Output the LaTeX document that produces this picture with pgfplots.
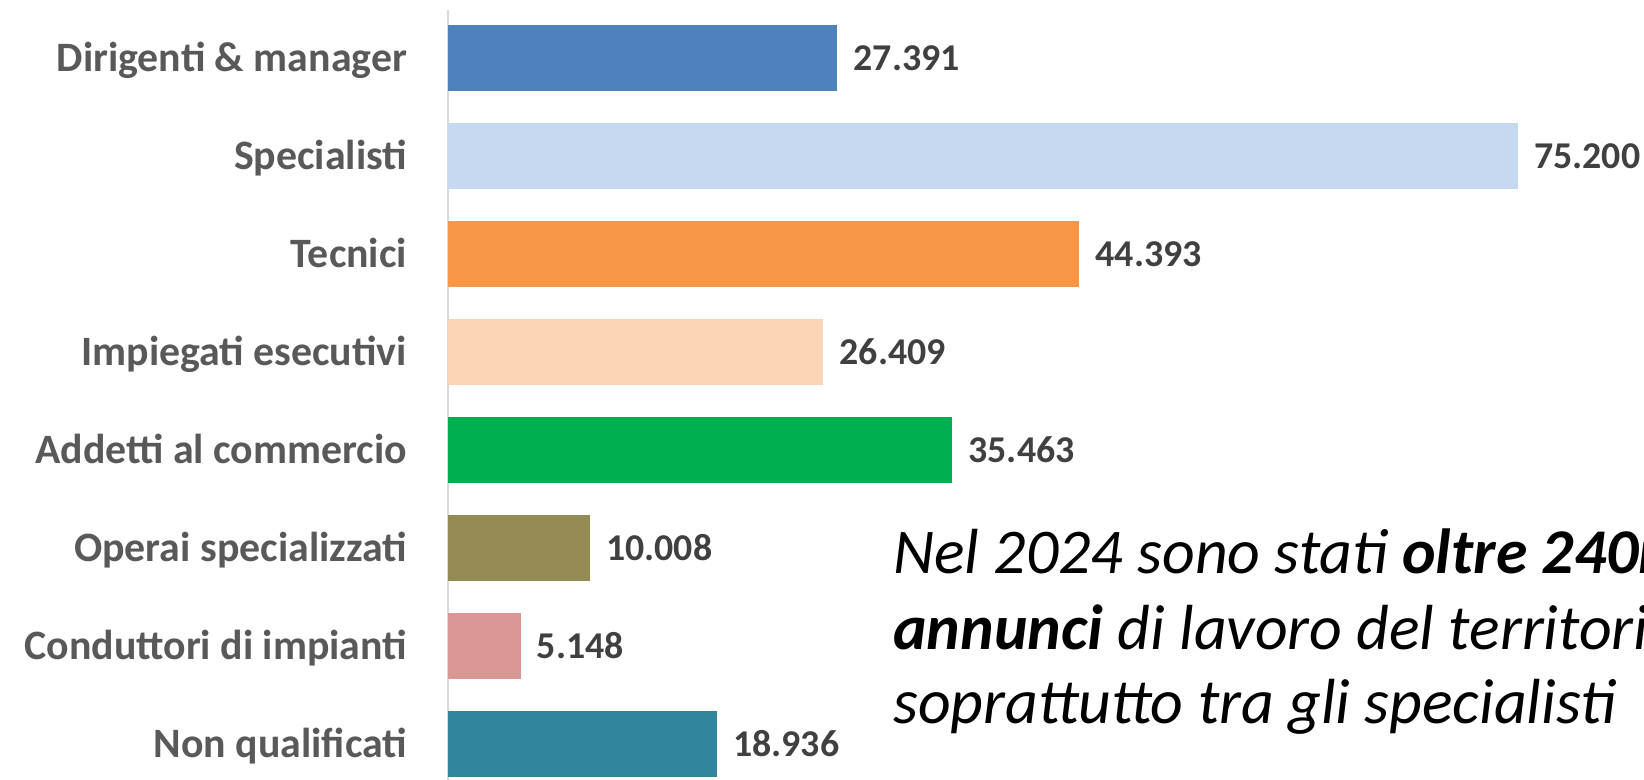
\documentclass[border=0pt]{standalone}
\usepackage{pgfplots}
\pgfplotsset{compat=1.18}
\usepackage{fontspec}
\setmainfont{Carlito}
\definecolor{c1}{HTML}{4F81BD}
\definecolor{c2}{HTML}{C6D9F1}
\definecolor{c3}{HTML}{F79646}
\definecolor{c4}{HTML}{FBD5B5}
\definecolor{c5}{HTML}{00B050}
\definecolor{c6}{HTML}{948A54}
\definecolor{c7}{HTML}{D99694}
\definecolor{c8}{HTML}{31859C}
\definecolor{labgray}{HTML}{595959}
\definecolor{valgray}{HTML}{404040}
\begin{document}
\begin{tikzpicture}[x=1bp,y=1bp]
\clip (0,0) rectangle (1644,780);
\useasboundingbox (0,0) rectangle (1644,780);
\begin{axis}[
  at={(447.5bp,0bp)}, anchor=south west,
  scale only axis, width=1196.5bp, height=770bp,
  xmin=0, xmax=84055,
  ymin=-0.488, ymax=7.369, y dir=reverse,
  axis x line=none, axis y line*=left,
  y axis line style={draw=black!15, line width=2bp, -},
  xtick=\empty,
  ytick={0,...,7},
  yticklabels={Dirigenti \& manager, Specialisti, Tecnici, Impiegati esecutivi, Addetti al commercio, Operai specializzati, Conduttori di impianti, Non qualificati},
  ytick style={draw=none},
  yticklabel style={font=\fontsize{42}{48}\selectfont\bfseries, text=labgray, anchor=base east, inner sep=0pt, xshift=-36bp, yshift=-14bp},
  xbar, bar width=65.7bp, bar shift=0pt,
  nodes near coords,
  /pgf/number format/.cd, 1000 sep={.}, fixed, precision=0, assume math mode=true,
  /pgfplots/.cd,
  nodes near coords style={font=\fontsize{38}{44}\selectfont\bfseries, text=valgray, anchor=base west, inner sep=0pt, xshift=16bp, yshift=-13bp},
  clip=false,
]
\addplot[fill=c1, draw=none] coordinates {(27391,0)};
\addplot[fill=c2, draw=none] coordinates {(75200,1)};
\addplot[fill=c3, draw=none] coordinates {(44393,2)};
\addplot[fill=c4, draw=none] coordinates {(26409,3)};
\addplot[fill=c5, draw=none] coordinates {(35463,4)};
\addplot[fill=c6, draw=none] coordinates {(10008,5)};
\addplot[fill=c7, draw=none] coordinates {(5148,6)};
\addplot[fill=c8, draw=none] coordinates {(18936,7)};
\end{axis}
\begin{scope}[every node/.style={anchor=base west, inner sep=0pt, font=\fontsize{64}{75}\selectfont\itshape}]
\node at (893,206.7) {Nel 2024 sono stati \textbf{oltre 240mila}};
\node at (893,130.7) {\textbf{annunci} di lavoro del territorio,};
\node at (893,56) {soprattutto tra gli specialisti};
\end{scope}
\end{tikzpicture}
\end{document}
